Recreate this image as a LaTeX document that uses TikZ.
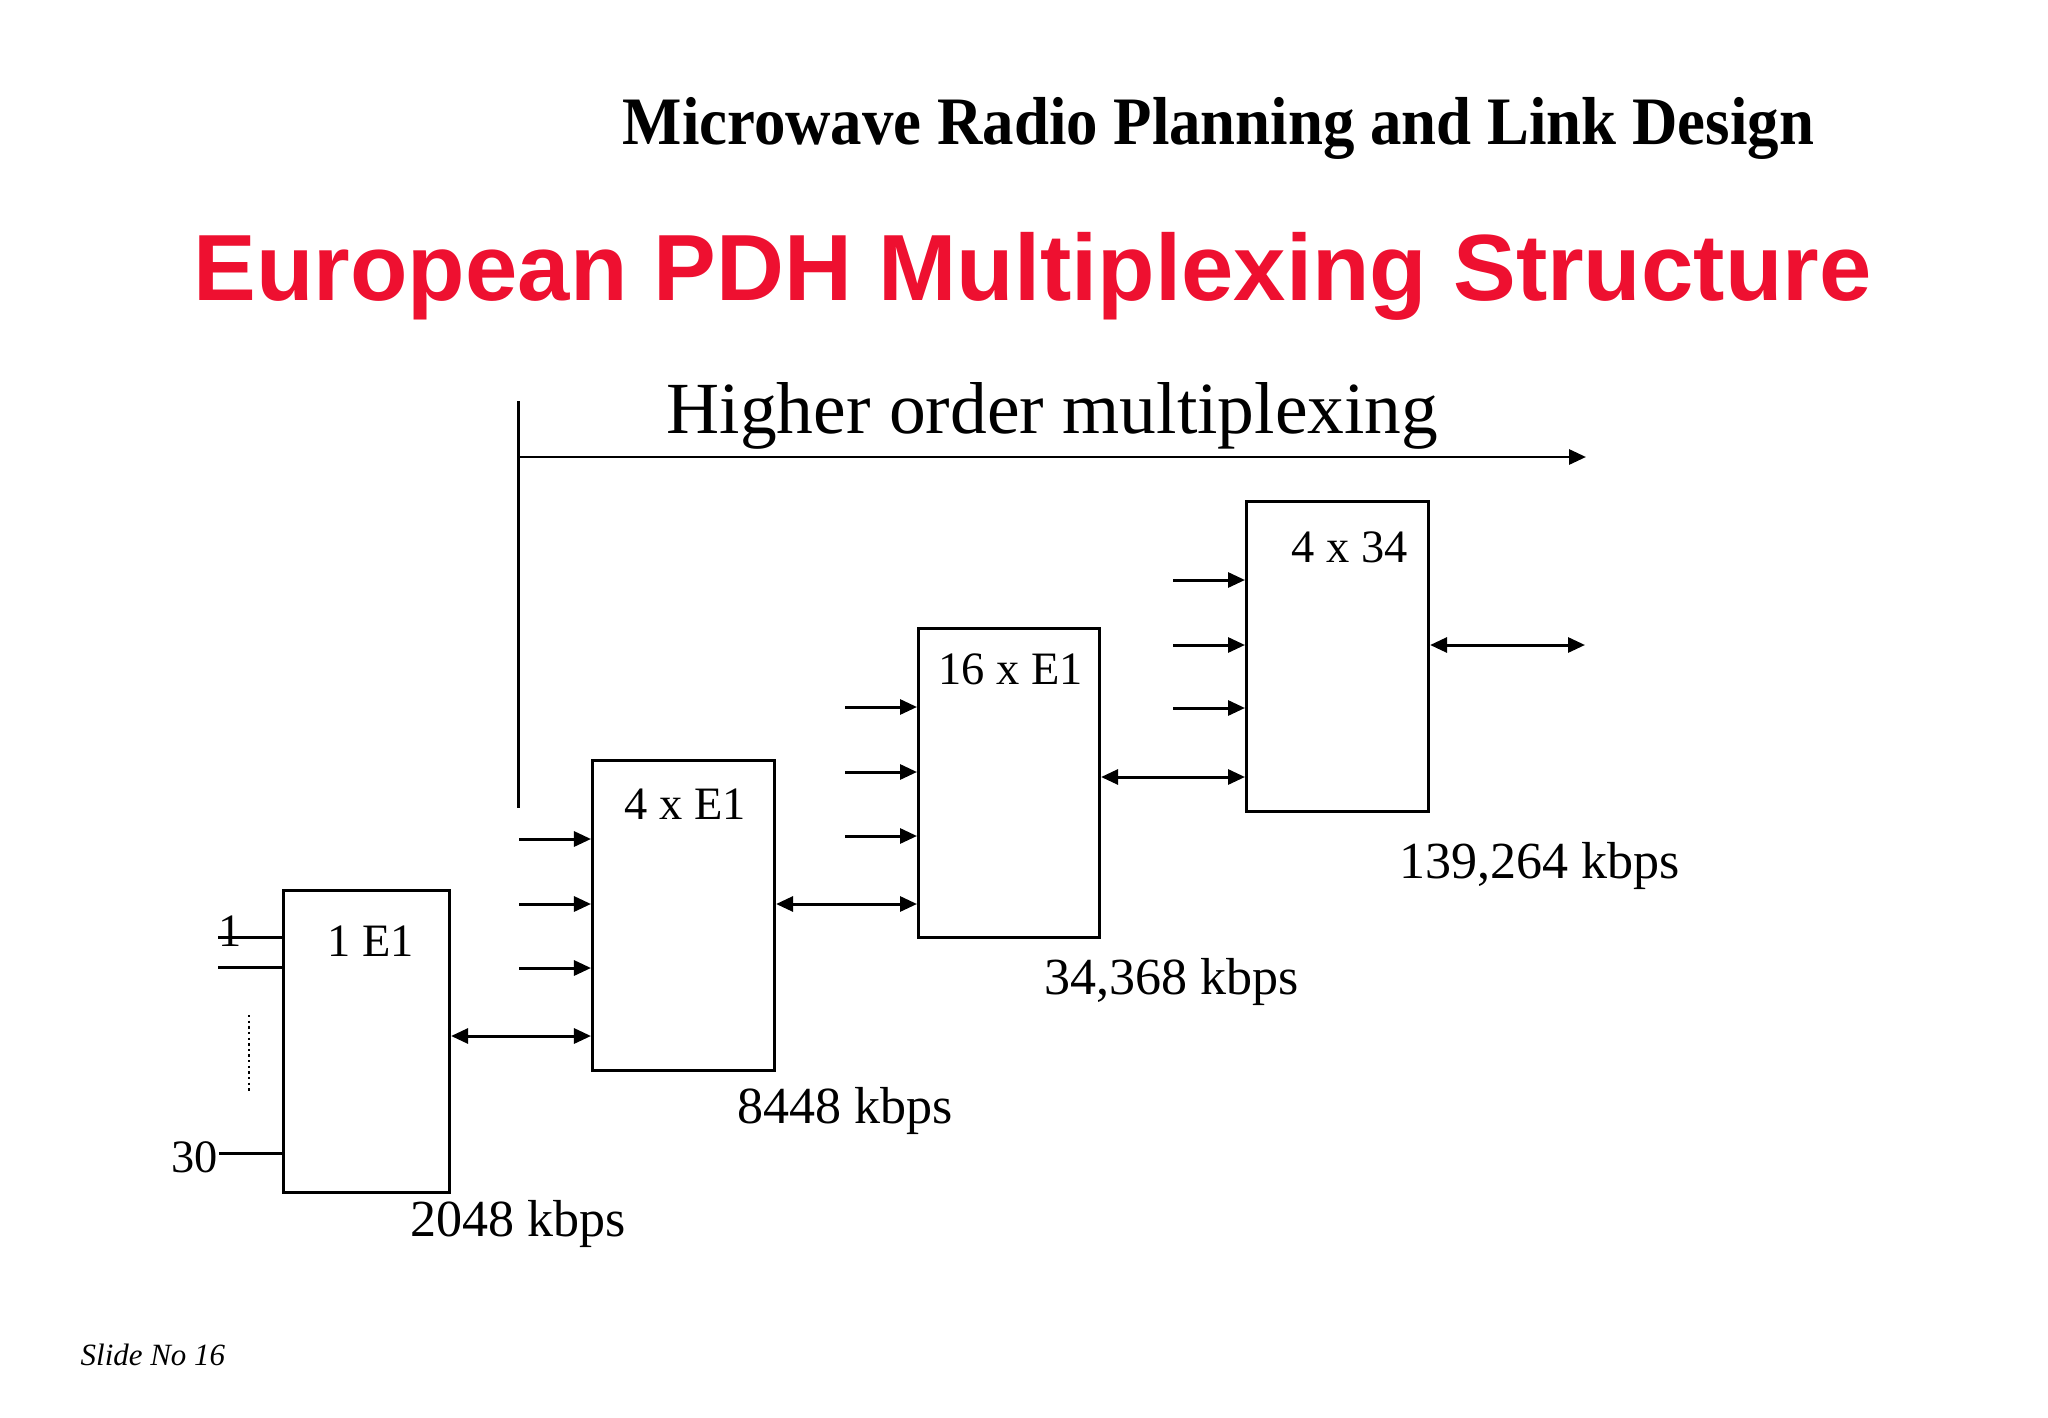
\documentclass[tikz,border=0pt]{standalone}
\usepackage{fontspec}
\setmainfont{Liberation Serif}
\newfontfamily\arialf{Liberation Sans}
\usetikzlibrary{arrows.meta}
\definecolor{titlered}{RGB}{238,16,48}
\begin{document}
\begin{tikzpicture}[x=0.01cm,y=-0.01cm,
  blk/.style={draw,line width=0.85pt,inner sep=0pt,anchor=north west},
  conn/.style={line width=0.85pt},
  arr/.style={conn,-{Triangle[length=0.17cm,width=0.15cm]}},
  dbl/.style={conn,{Triangle[length=0.17cm,width=0.15cm]}-{Triangle[length=0.17cm,width=0.15cm]}},
  lbl/.style={inner sep=0pt,anchor=base west,font=\fontsize{13.2pt}{15pt}\selectfont},
  rate/.style={inner sep=0pt,anchor=base west,font=\fontsize{14.8pt}{17pt}\selectfont}]
\useasboundingbox[fill=white] (0,0) rectangle (2048,1418);

% titles
\node[inner sep=0pt,anchor=base west] (top) at (622,144)
  {\scalebox{1}[1.08]{\fontsize{17.87pt}{20pt}\selectfont\bfseries Microwave Radio Planning and Link Design}};
\node[inner sep=0pt,anchor=base west,text=titlered] (title) at (193,300)
  {\fontsize{26.75pt}{30pt}\selectfont\arialf\bfseries European PDH Multiplexing Structure};
\node[inner sep=0pt,anchor=base west] (hom) at (666,433)
  {\fontsize{20.9pt}{24pt}\selectfont Higher order multiplexing};
\node[inner sep=0pt,anchor=base west] (slide) at (80,1365)
  {\fontsize{8.8pt}{10pt}\selectfont\itshape Slide No 16};

% higher order bracket
\coordinate (vt) at (518,401);
\coordinate (vb) at (518,808);
\coordinate (ht) at (1586,457);
\draw[conn] (vt) -- (vb);
\draw[arr] (vt |- ht) -- (ht);

% boxes
\node[blk,minimum width=1.66cm,minimum height=3.02cm] (b1) at (282,889) {};
\node[blk,minimum width=1.82cm,minimum height=3.10cm] (b2) at (591,759) {};
\node[blk,minimum width=1.81cm,minimum height=3.09cm] (b3) at (917,627) {};
\node[blk,minimum width=1.82cm,minimum height=3.10cm] (b4) at (1245,500) {};

% box labels
\node[lbl] (l1) at (327,956) {1 E1};
\node[lbl] (l2) at (624,819) {4 x E1};
\node[lbl] (l3) at (938,684) {16 x E1};
\node[lbl] (l4) at (1291,562) {4 x 34};

% rates
\node[rate] (r1) at (410,1236) {2048 kbps};
\node[rate] (r2) at (737,1123) {8448 kbps};
\node[rate] (r3) at (1044,994) {34,368 kbps};
\node[rate] (r4) at (1399,878) {139,264 kbps};

% inputs to 1 E1
\node[lbl] (n1) at (218,946) {1};
\node[lbl] (n30) at (171,1172) {30};
\coordinate (a1) at (218,937);
\coordinate (a2) at (218,967);
\coordinate (a30) at (n30.east |- 0,1153);
\draw[conn] (a1) -- (a1 -| b1.west);
\draw[conn] (a2) -- (a2 -| b1.west);
\draw[conn] (a30) -- (a30 -| b1.west);
\coordinate (d1) at (249,1015);
\coordinate (d2) at (249,1093);
\draw[line width=0.6pt,dash pattern=on 0.7pt off 0.9pt] (d1) -- (d2);

% inputs to 4 x E1
\foreach \y [count=\i] in {839,904,968}{
  \coordinate (p2\i) at (519,\y);
  \draw[arr] (p2\i) -- (p2\i -| b2.west);
}
% inputs to 16 x E1
\foreach \y [count=\i] in {707,772,836}{
  \coordinate (p3\i) at (845,\y);
  \draw[arr] (p3\i) -- (p3\i -| b3.west);
}
% inputs to 4 x 34
\foreach \y [count=\i] in {580,645,708}{
  \coordinate (p4\i) at (1173,\y);
  \draw[arr] (p4\i) -- (p4\i -| b4.west);
}

% links between boxes
\coordinate (k12) at (0,1036);
\coordinate (k23) at (0,904);
\coordinate (k34) at (0,777);
\coordinate (kout) at (1585,645);
\draw[dbl] (b1.east |- k12) -- (b2.west |- k12);
\draw[dbl] (b2.east |- k23) -- (b3.west |- k23);
\draw[dbl] (b3.east |- k34) -- (b4.west |- k34);
\draw[dbl] (b4.east |- kout) -- (kout);
\end{tikzpicture}
\end{document}
